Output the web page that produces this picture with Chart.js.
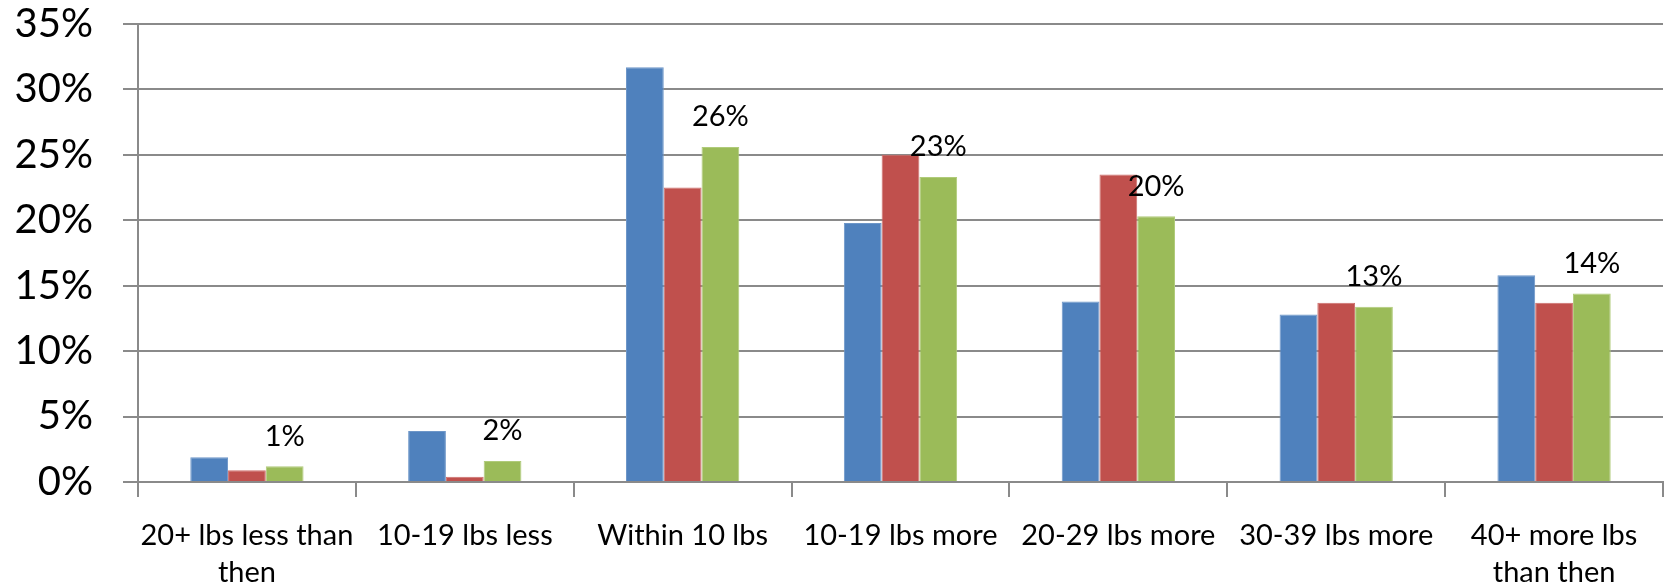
<!DOCTYPE html>
<html>
<head>
<meta charset="utf-8">
<script src="https://cdn.jsdelivr.net/npm/chart.js@4.4.1/dist/chart.umd.min.js"></script>
<style>
html,body{margin:0;padding:0;background:#fff;}
#wrap{width:1668px;height:587px;position:relative;}
</style>
</head>
<body>
<div id="wrap"><canvas id="c" width="1668" height="587"></canvas></div>
<script>
const categories = [
  ['20+ lbs less than', 'then'],
  '10-19 lbs less',
  'Within 10 lbs',
  '10-19 lbs more',
  '20-29 lbs more',
  '30-39 lbs more',
  ['40+ more lbs', 'than then']
];
const seriesBlue  = [1.9, 3.9, 31.7, 19.8, 13.8, 12.8, 15.8];
const seriesRed   = [0.9, 0.4, 22.5, 25.0, 23.5, 13.7, 13.7];
const seriesGreen = [1.2, 1.6, 25.6, 23.3, 20.3, 13.4, 14.4];
const yTicks = [0, 5, 10, 15, 20, 25, 30, 35];

const gridColor = '#8a8a8a';
const fontFamily = 'Lato, "Open Sans", sans-serif';

const greenLabels = {
  id: 'greenLabels',
  afterDatasetsDraw(chart) {
    const ctx = chart.ctx;
    const meta = chart.getDatasetMeta(2);
    ctx.save();
    ctx.fillStyle = '#000';
    ctx.font = '29px ' + fontFamily;
    ctx.textAlign = 'center';
    ctx.textBaseline = 'middle';
    meta.data.forEach((bar, i) => {
      const v = chart.data.datasets[2].data[i];
      ctx.fillText(Math.round(v) + '%', bar.x, bar.y - 30);
    });
    ctx.restore();
  }
};

new Chart(document.getElementById('c'), {
  type: 'bar',
  data: {
    labels: categories,
    datasets: [
      { data: seriesBlue,  backgroundColor: '#4F81BD', borderColor: '#6d96c8', borderWidth: 1 },
      { data: seriesRed,   backgroundColor: '#C0504D', borderColor: '#cd6e6b', borderWidth: 1 },
      { data: seriesGreen, backgroundColor: '#9BBB59', borderColor: '#b0cb7a', borderWidth: 1 }
    ]
  },
  options: {
    responsive: false,
    animation: false,
    devicePixelRatio: 1,
    layout: { padding: { top: 24, right: 5, left: 0, bottom: 0 } },
    plugins: { legend: { display: false }, tooltip: { enabled: false } },
    datasets: { bar: { categoryPercentage: 0.52, barPercentage: 1.0 } },
    scales: {
      x: {
        grid: { display: true, drawOnChartArea: false, drawTicks: true, tickLength: 15, color: gridColor, lineWidth: 2, offset: true },
        border: { display: true, color: gridColor, width: 2 },
        ticks: { color: '#000', font: { family: fontFamily, size: 29, lineHeight: 1.27 }, padding: 20, maxRotation: 0, autoSkip: false },
        afterFit(scale) { scale.height = 105; scale.paddingLeft = 0; scale.paddingRight = 0; }
      },
      y: {
        min: 0, max: 35,
        afterBuildTicks(scale) { scale.ticks = yTicks.map(v => ({ value: v })); },
        grid: { color: gridColor, lineWidth: 2, tickLength: 15, drawTicks: true },
        border: { display: true, color: gridColor, width: 2 },
        ticks: { color: '#000', font: { family: fontFamily, size: 40 }, padding: 30, callback: v => v + '%' },
        afterFit(scale) { scale.width = 138; scale.paddingTop = 0; scale.paddingBottom = 0; }
      }
    }
  },
  plugins: [greenLabels]
});
</script>
</body>
</html>
